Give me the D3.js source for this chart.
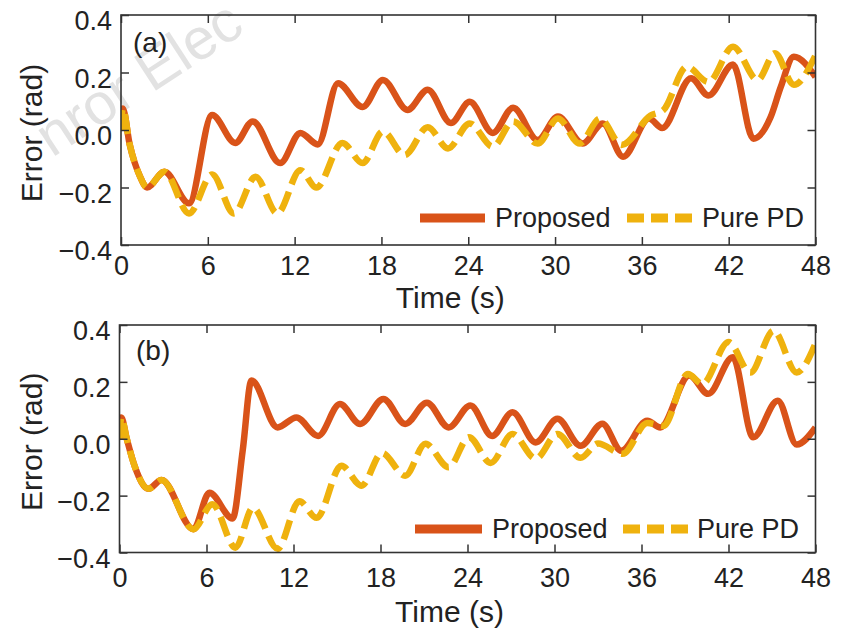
<!DOCTYPE html>
<html>
<head>
  <meta charset="utf-8">
  <title>Error comparison</title>
  <style>
    body { margin: 0; background: #fff; }
    text { font-family: "Liberation Sans", Arial, sans-serif; fill: #222; }
  </style>
</head>
<body>
<div id="chart"></div>
<script src="https://cdn.jsdelivr.net/npm/d3@7"></script>
<script>
// ---- data ----
var xTicks = [0, 6, 12, 18, 24, 30, 36, 42, 48];
var yTicks = [-0.4, -0.2, 0.0, 0.2, 0.4];
var seriesNames = ["Proposed", "Pure PD"];

// panel (a)
var aPropT = [0, 0.12, 0.6, 1.3, 1.8, 3.0, 4.7, 6.3, 7.9, 9.1, 11.0, 12.4, 13.6, 15.0, 16.7, 18.1, 19.8, 21.2, 22.8, 24.1,
              25.7, 27.1, 28.8, 30.2, 31.9, 33.3, 34.7, 36.5, 37.4, 39.4, 40.6, 42.3, 43.7, 44.9, 45.6, 46.5, 48];
var aPropV = [0.0, 0.075, -0.05, -0.16, -0.2, -0.145, -0.255, 0.052, -0.045, 0.03, -0.115, -0.01, -0.05, 0.163, 0.08, 0.174,
              0.07, 0.14, 0.024, 0.098, -0.01, 0.077, -0.035, 0.047, -0.047, 0.023, -0.093, 0.04, 0.007, 0.18, 0.12, 0.228,
              -0.03, 0.045, 0.15, 0.255, 0.185];
var aPDT = [0, 0.12, 0.6, 1.3, 1.8, 3.0, 4.7, 6.3, 7.8, 9.3, 10.8, 12.4, 13.5, 15.3, 16.7, 18.1, 19.6, 21.2, 22.6, 24.1,
            25.7, 27.1, 28.8, 30.2, 31.7, 33.1, 34.6, 36.6, 37.5, 39.1, 40.6, 42.3, 44.0, 45.2, 46.5, 48];
var aPDV = [0.0, 0.075, -0.05, -0.16, -0.2, -0.145, -0.29, -0.155, -0.29, -0.163, -0.29, -0.14, -0.2, -0.045, -0.115, -0.005,
            -0.087, 0.01, -0.064, 0.023, -0.058, 0.03, -0.047, 0.04, -0.047, 0.04, -0.052, 0.05, 0.07, 0.22, 0.167, 0.29,
            0.174, 0.267, 0.157, 0.26];

// panel (b)
var bPropT = [0, 0.12, 0.5, 1.07, 2.0, 2.9, 5.1, 6.2, 7.8, 8.5, 9.1, 10.9, 12.2, 13.7, 15.2, 16.6, 18.2, 19.7, 21.2, 22.7,
              24.2, 25.7, 27.1, 28.7, 30.2, 31.8, 33.3, 34.6, 36.4, 37.3, 39.3, 40.6, 42.3, 43.7, 45.4, 46.7, 48];
var bPropV = [0.0, 0.075, 0.0, -0.1, -0.176, -0.145, -0.318, -0.19, -0.28, -0.04, 0.205, 0.04, 0.075, 0.01, 0.122, 0.052,
              0.14, 0.052, 0.127, 0.04, 0.117, 0.01, 0.093, -0.013, 0.07, -0.025, 0.053, -0.042, 0.063, 0.04, 0.222, 0.158,
              0.287, 0.005, 0.134, -0.02, 0.04];
var bPDT = [0, 0.12, 0.5, 1.07, 2.0, 2.9, 5.1, 6.4, 8.0, 9.2, 10.9, 12.4, 13.6, 15.3, 16.7, 18.1, 19.7, 21.1, 22.7, 24.1,
            25.6, 27.1, 28.7, 30.2, 31.8, 33.0, 34.7, 36.4, 37.5, 39.2, 40.2, 42.0, 43.5, 45.1, 46.7, 48];
var bPDV = [0.0, 0.075, 0.0, -0.1, -0.176, -0.145, -0.318, -0.23, -0.383, -0.243, -0.387, -0.22, -0.278, -0.095, -0.165,
            -0.05, -0.13, -0.018, -0.1, 0.005, -0.085, 0.017, -0.07, 0.017, -0.067, -0.017, -0.053, 0.055, 0.045, 0.228,
            0.193, 0.34, 0.233, 0.38, 0.233, 0.335];

var colors = ["#D95319", "#EFB20E"];

var w = 850, h = 628;
var svg = d3.select("#chart").append("svg")
  .attr("width", w).attr("height", h)
  .style("display", "block");
svg.append("rect").attr("width", w).attr("height", h).attr("fill", "#fff");

// faint watermark behind everything
svg.append("text")
  .attr("transform", "translate(52,158) rotate(-33)")
  .attr("font-size", "58px")
  .style("fill", "#e2e2e2")
  .text("nror Elec");

function zip(ts, vs) {
  return ts.map(function (t, i) { return [t, vs[i]]; });
}

var panels = [
  { id: "a", label: "(a)", left: 121, right: 815.5, top: 15, bottom: 245, xPad: 11, titleY: 308,
    labelY: 52, labelX: 133, legY: 218, legTextY: 227,
    leg: [[420, 485, 495], [627, 693, 702]],
    series: [zip(aPropT, aPropV), zip(aPDT, aPDV)] },
  { id: "b", label: "(b)", left: 119.5, right: 815.5, top: 325, bottom: 552.5, xPad: 15, titleY: 622,
    labelY: 360, labelX: 136, legY: 529, legTextY: 538,
    leg: [[415, 482, 492], [623, 688, 697]],
    series: [zip(bPropT, bPropV), zip(bPDT, bPDV)] }
];

panels.forEach(function (p) {
  var x = d3.scaleLinear().domain([0, 48]).range([p.left, p.right]);
  var y = d3.scaleLinear().domain([-0.4, 0.4]).range([p.bottom, p.top]);
  var g = svg.append("g");

  g.append("clipPath").attr("id", "clip-" + p.id)
    .append("rect")
    .attr("x", p.left).attr("y", p.top)
    .attr("width", p.right - p.left).attr("height", p.bottom - p.top);

  var line = d3.line()
    .x(function (d) { return x(d[0]); })
    .y(function (d) { return y(d[1]); })
    .curve(d3.curveMonotoneX);

  var lines = g.append("g").attr("clip-path", "url(#clip-" + p.id + ")");
  p.series.forEach(function (s, i) {
    lines.append("path")
      .datum(s)
      .attr("d", line)
      .attr("fill", "none")
      .attr("stroke", colors[i])
      .attr("stroke-width", 6.5)
      .attr("stroke-linejoin", "round")
      .attr("stroke-dasharray", i === 1 ? "20,8" : null);
  });

  // axes, ticks inward on all sides
  var fmtY = d3.format(".1f");
  var bottomAx = g.append("g").attr("transform", "translate(0," + p.bottom + ")")
    .call(d3.axisBottom(x).tickValues(xTicks).tickSize(-8).tickPadding(p.xPad).tickFormat(d3.format("d")));
  var leftAx = g.append("g").attr("transform", "translate(" + p.left + ",0)")
    .call(d3.axisLeft(y).tickValues(yTicks).tickSize(-8).tickPadding(9).tickFormat(fmtY));
  var topAx = g.append("g").attr("transform", "translate(0," + p.top + ")")
    .call(d3.axisTop(x).tickValues(xTicks).tickSize(-8).tickFormat(""));
  var rightAx = g.append("g").attr("transform", "translate(" + p.right + ",0)")
    .call(d3.axisRight(y).tickValues(yTicks).tickSize(-8).tickFormat(""));

  [bottomAx, leftAx, topAx, rightAx].forEach(function (ax) {
    ax.select(".domain").remove();
    ax.selectAll(".tick line").attr("stroke", "#333").attr("stroke-width", 1.5);
    ax.selectAll(".tick text").attr("font-size", "27px").attr("font-family", null).style("fill", "#222");
  });
  leftAx.selectAll(".tick text").attr("dy", "0.54em");

  g.append("rect")
    .attr("x", p.left).attr("y", p.top)
    .attr("width", p.right - p.left).attr("height", p.bottom - p.top)
    .attr("fill", "none").attr("stroke", "#333").attr("stroke-width", 1.6);

  // titles
  g.append("text")
    .attr("x", (p.left + p.right) / 2 - 18).attr("y", p.titleY)
    .attr("text-anchor", "middle").attr("font-size", "30px")
    .text("Time (s)");
  g.append("text")
    .attr("transform", "translate(42," + ((p.top + p.bottom) / 2 + 3) + ") rotate(-90)")
    .attr("text-anchor", "middle").attr("font-size", "30px")
    .text("Error (rad)");
  g.append("text")
    .attr("x", p.labelX).attr("y", p.labelY)
    .attr("font-size", "28px")
    .text(p.label);

  // legend
  p.leg.forEach(function (l, i) {
    g.append("line")
      .attr("x1", l[0]).attr("x2", l[1])
      .attr("y1", p.legY).attr("y2", p.legY)
      .attr("stroke", colors[i]).attr("stroke-width", 9)
      .attr("stroke-dasharray", i === 1 ? "17,7" : null);
    g.append("text")
      .attr("x", l[2]).attr("y", p.legTextY)
      .attr("font-size", "27px")
      .text(seriesNames[i]);
  });
});
</script>
</body>
</html>
